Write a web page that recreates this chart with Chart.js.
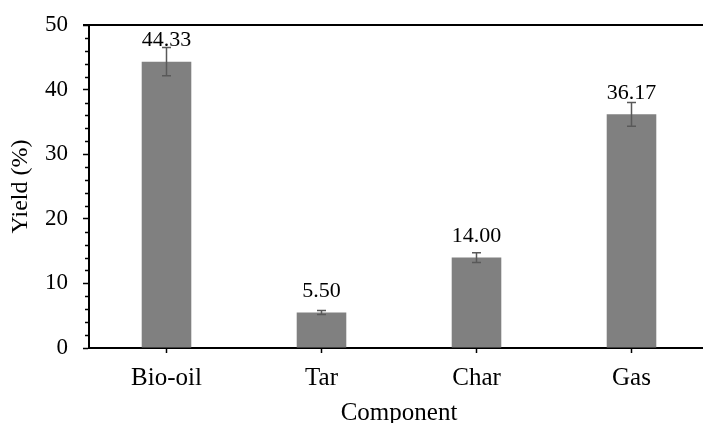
<!DOCTYPE html>
<html>
<head>
<meta charset="utf-8">
<script src="https://cdn.jsdelivr.net/npm/chart.js@4"></script>
<style>
  html, body { margin: 0; padding: 0; background: #fff; overflow: hidden; }
  #wrap { width: 712px; height: 423px; }
</style>
</head>
<body>
<div id="wrap"><canvas id="myChart" width="712" height="423"></canvas></div>
<script>
const categories = ['Bio-oil', 'Tar', 'Char', 'Gas'];
const yields = [44.33, 5.50, 14.00, 36.17];
const errors = [2.2, 0.3, 0.75, 1.85];
const yTicks = [0, 10, 20, 30, 40, 50];

const serif = '"Liberation Serif", "Times New Roman", serif';
const ctx = document.getElementById('myChart').getContext('2d');

// error bars, value labels, minor ticks and top line
const extras = {
    id: 'extras',
    afterDatasetsDraw(chart) {
        const c = chart.ctx;
        const y = chart.scales.y;
        const area = chart.chartArea;
        const meta = chart.getDatasetMeta(0);

        c.save();
        // top line
        c.strokeStyle = '#000';
        c.lineWidth = 2;
        c.beginPath();
        c.moveTo(area.left - 6, y.getPixelForValue(50));
        c.lineTo(area.right + 10, y.getPixelForValue(50));
        c.stroke();

        // minor ticks
        c.lineWidth = 1.5;
        for (let v = 0; v < 50; v += 2) {
            if (v % 10 === 0) continue;
            const py = Math.round(y.getPixelForValue(v)) + 0.5;
            c.beginPath();
            c.moveTo(area.left - 4, py);
            c.lineTo(area.left, py);
            c.stroke();
        }

        // error bars
        c.strokeStyle = '#595959';
        c.lineWidth = 1.5;
        meta.data.forEach((bar, i) => {
            const top = y.getPixelForValue(yields[i] + errors[i]);
            const bot = y.getPixelForValue(yields[i] - errors[i]);
            c.beginPath();
            c.moveTo(bar.x, top); c.lineTo(bar.x, bot);
            c.moveTo(bar.x - 4.5, top); c.lineTo(bar.x + 4.5, top);
            c.moveTo(bar.x - 4.5, bot); c.lineTo(bar.x + 4.5, bot);
            c.stroke();
        });

        // value labels
        c.fillStyle = '#000';
        c.font = '22px ' + serif;
        c.textAlign = 'center';
        c.textBaseline = 'middle';
        meta.data.forEach((bar, i) => {
            c.fillText(yields[i].toFixed(2), bar.x, bar.y - 21);
        });
        c.restore();
    }
};

const myChart = new Chart(ctx, {
    type: 'bar',
    data: {
        labels: categories,
        datasets: [{
            data: yields,
            backgroundColor: '#808080',
            borderWidth: 0,
            barPercentage: 0.32,
            categoryPercentage: 1
        }]
    },
    options: {
        responsive: false,
        animation: false,
        layout: {
            padding: { top: 25, right: 3, left: 0, bottom: 0 }
        },
        plugins: {
            legend: { display: false },
            tooltip: { enabled: false }
        },
        scales: {
            x: {
                grid: {
                    offset: false,
                    drawOnChartArea: false,
                    tickLength: 5,
                    tickColor: '#000',
                    tickWidth: 1.5
                },
                border: { color: '#000', width: 2 },
                ticks: {
                    color: '#000',
                    font: { family: serif, size: 25 },
                    padding: 10
                },
                title: {
                    display: true,
                    text: 'Component',
                    color: '#000',
                    font: { family: serif, size: 25 },
                    padding: { top: 0, bottom: -5 }
                },
                afterFit(scale) { scale.height = 75; }
            },
            y: {
                min: 0,
                max: 50,
                afterBuildTicks(scale) {
                    scale.ticks = yTicks.map(v => ({ value: v }));
                },
                grid: {
                    drawOnChartArea: false,
                    tickLength: 6,
                    tickColor: '#000',
                    tickWidth: 1.5
                },
                border: { color: '#000', width: 2 },
                ticks: {
                    color: '#000',
                    font: { family: serif, size: 23 },
                    padding: 15
                },
                title: {
                    display: true,
                    text: 'Yield (%)',
                    color: '#000',
                    font: { family: serif, size: 24 },
                    padding: { top: 6, bottom: 0 }
                },
                afterFit(scale) {
                    scale.width = 89;
                    scale.paddingTop = 0;
                    scale.paddingBottom = 0;
                }
            }
        }
    },
    plugins: [extras]
});
</script>
</body>
</html>
